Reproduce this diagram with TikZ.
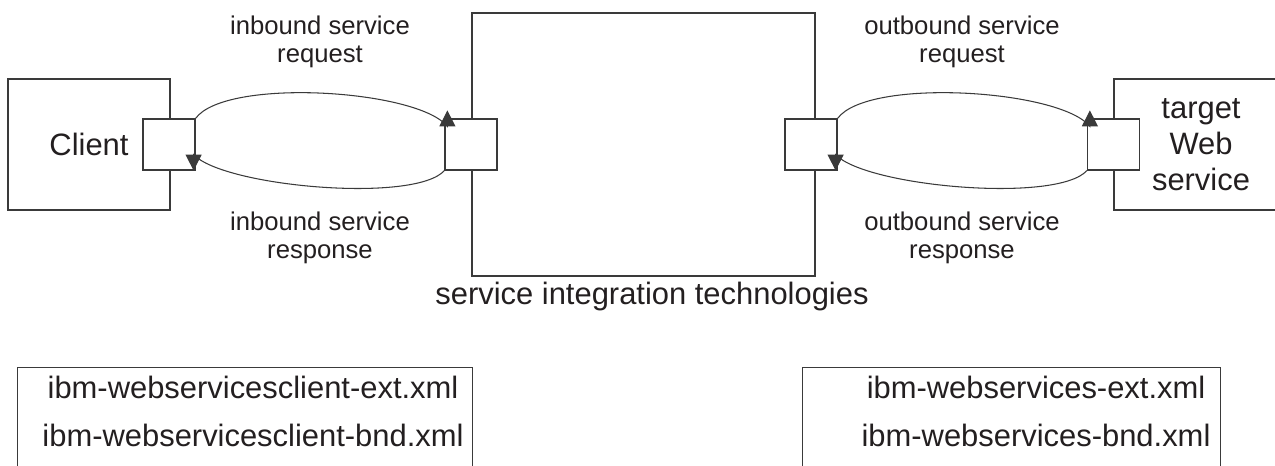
\documentclass[tikz,border=0pt]{standalone}
\usepackage{fontspec}
\setmainfont{Liberation Sans}
\usepackage{xcolor}
\usetikzlibrary{positioning,arrows.meta,calc}

\definecolor{linegray}{HTML}{3A3A3A}
\definecolor{inkgray}{HTML}{231F20}

\tikzset{
  box/.style={draw=linegray, line width=0.7pt, fill=white, inner sep=0pt, text=inkgray},
  port/.style={box, minimum width=1.04cm, minimum height=1.02cm},
  flow/.style={draw=linegray, line width=0.6pt, -{Triangle[length=3.2mm,width=3.2mm]}},
  lbl/.style={text=inkgray, align=center, font=\fontsize{14.6}{16}\selectfont},
  big/.style={text=inkgray, align=center, font=\fontsize{17.6}{20.5}\selectfont},
  files/.style={text=inkgray, align=center, font=\fontsize{17.6}{27.3}\selectfont},
}

\begin{document}
\begin{tikzpicture}[x=0.02cm, y=-0.02cm]
  \useasboundingbox (0,0) rectangle (1275,466);
  \clip (0,0) rectangle (1275,466);

  % main boxes
  \node[box, big, minimum width=3.24cm, minimum height=2.62cm] (client) at (89,144.5) {Client};
  \node[box, minimum width=6.86cm, minimum height=5.26cm] (sit) at (643.5,144.5) {};
  \node[box, big, minimum width=3.48cm, minimum height=2.62cm] (target) at (1201,144.5) {target\\Web\\service};
  \node[big] (sitlabel) at (652,297) {service integration technologies};

  % ports
  \node[port] (cport) at (169,144.5) {};
  \node[port] (lport) at (471,144.5) {};
  \node[port] (rport) at (811,144.5) {};
  \node[port] (tport) at (1113.5,144.5) {};

  % flows
  \draw[flow] (cport.north east) .. controls +(30,-41) and +(-30,-37) .. ($(lport.north west)+(3,8)$) -- ++(0,-16);
  \draw[flow] (lport.south west) .. controls +(-30,33) and +(30,32) .. ($(cport.south east)+(-2,-16)$) -- ++(0,16);
  \draw[flow] (rport.north east) .. controls +(30,-41) and +(-30,-37) .. ($(tport.north west)+(3,8)$) -- ++(0,-16);
  \draw[flow] (tport.south west) .. controls +(-30,33) and +(30,32) .. ($(rport.south east)+(-2,-16)$) -- ++(0,16);

  \node[lbl] (inreq)  at (320,42)  {inbound service\\request};
  \node[lbl] (inresp) at (320,238) {inbound service\\response};
  \node[lbl] (outreq)  at (962,42)  {outbound service\\request};
  \node[lbl] (outresp) at (962,238) {outbound service\\response};

  % deployment descriptors
  \node[box, anchor=north west, minimum width=9.1cm, minimum height=3cm] (clientdd) at (17,367) {};
  \node[box, anchor=north west, minimum width=8.36cm, minimum height=3cm] (servicedd) at (802,367) {};
  \node[files] (clientddtxt) at (253,411) {ibm-webservicesclient-ext.xml\\ibm-webservicesclient-bnd.xml};
  \node[files] (serviceddtxt) at (1036,411) {ibm-webservices-ext.xml\\ibm-webservices-bnd.xml};
\end{tikzpicture}
\end{document}
